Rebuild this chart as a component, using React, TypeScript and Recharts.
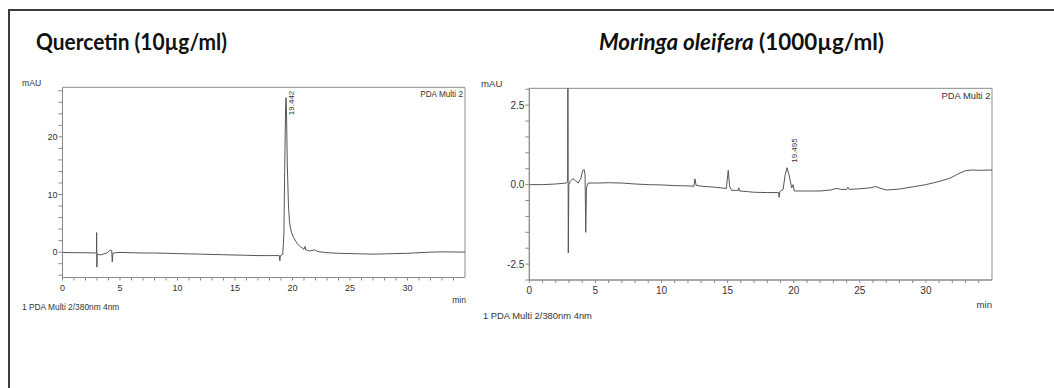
import React from "react";
import { LineChart, Line, XAxis, YAxis, ReferenceArea } from "recharts";

// retention time (min) / absorbance (mAU)
const quercetinTime = [
  0, 1, 2, 2.8, 2.95, 2.97, 2.99, 3.02, 3.3, 3.6, 3.9, 4.15, 4.28, 4.33, 4.38, 4.6, 5, 6, 7, 8, 9, 10, 11, 12, 13, 14,
  15, 16, 17, 18, 18.85, 18.9, 18.95, 19.15, 19.25, 19.32, 19.4, 19.44, 19.48, 19.55, 19.65, 19.75, 19.9, 20.1, 20.4,
  20.7, 21.0, 21.1, 21.15, 21.5, 21.9, 22.2, 23, 24, 25, 26, 27, 28, 29, 30, 31, 32, 33, 35,
];
const quercetinSignal = [
  -0.05, -0.1, -0.1, -0.15, -0.15, 3.4, -2.6, -0.3, -0.5, -0.3, -0.1, 0.35, 0.3, -1.7, -0.2, -0.1, -0.05, -0.1, -0.15,
  -0.15, -0.2, -0.25, -0.3, -0.35, -0.4, -0.45, -0.5, -0.55, -0.6, -0.6, -0.6, -1.5, -0.6, -0.4, 3, 14, 25, 26.8, 24,
  15, 8, 5, 3.5, 2.5, 1.5, 0.9, 0.5, 1.0, 0.4, 0.2, 0.4, 0.1, -0.1, -0.2, -0.25, -0.3, -0.35, -0.3, -0.25, -0.2, -0.1,
  0.0, 0.05, 0.0,
];

const moringaTime = [
  0, 1, 2, 2.8, 2.9, 2.92, 2.95, 2.99, 3.1, 3.3, 3.5, 3.7, 3.9, 4.05, 4.15, 4.22, 4.27, 4.32, 4.45, 5, 6, 7, 8, 9, 10,
  11, 12, 12.45, 12.53, 12.62, 13, 14, 14.9, 15.05, 15.15, 15.3, 15.8, 15.85, 15.9, 16.5, 17, 18, 18.85, 18.9, 18.95,
  19.2, 19.35, 19.5, 19.65, 19.85, 19.95, 20.05, 21, 22, 22.8, 23.2, 23.6, 24.0, 24.1, 24.2, 25, 25.8, 26.2, 26.6, 27,
  28, 29, 30, 31, 31.8, 32.5, 33, 33.5, 34, 35,
];
const moringaSignal = [
  0.0, 0.0, 0.02, 0.05, 0.1, 3.3, -2.15, 0.0, 0.1, 0.19, 0.12, 0.05, 0.2, 0.45, 0.47, 0.3, -1.5, -0.1, 0.05, 0.05, 0.06,
  0.05, 0.02, 0.0, -0.01, -0.03, -0.04, -0.05, 0.18, -0.02, -0.05, -0.08, -0.12, 0.45, -0.05, -0.18, -0.18, -0.1, -0.2,
  -0.22, -0.24, -0.25, -0.25, -0.4, -0.22, -0.15, 0.3, 0.53, 0.3, -0.1, 0.0, -0.2, -0.2, -0.2, -0.17, -0.12, -0.15,
  -0.15, -0.08, -0.15, -0.13, -0.1, -0.06, -0.12, -0.17, -0.14, -0.07, 0.0, 0.1, 0.2, 0.35, 0.44, 0.46, 0.45, 0.46,
];

const quercetinPeak = { t: 19.44, label: "19.442" };
const moringaPeak = { t: 19.5, label: "19.495" };

const xTicks = Array.from({ length: 35 }, (_, i) => i);
const quercetinYTicks = [-4, -2, 0, 2, 4, 6, 8, 10, 12, 14, 16, 18, 20, 22, 24, 26, 28];
const moringaYTicks = [-3, -2.5, -2, -1.5, -1, -0.5, 0, 0.5, 1, 1.5, 2, 2.5, 3];

const FONT = "'Liberation Sans', Arial, sans-serif";
const TRACE = "#555";
const FRAME = "#8a8a8a";

const build = (t: number[], v: number[], peak: { t: number; label: string }) =>
  t.map((time, i) => ({ t: time, v: v[i], tag: time === peak.t ? peak.label : null }));

const quercetinData = build(quercetinTime, quercetinSignal, quercetinPeak);
const moringaData = build(moringaTime, moringaSignal, moringaPeak);

const XTick = ({ x, y, payload, fs }: any) =>
  payload.value % 5 === 0 ? (
    <text x={x} y={y} dy="0.71em" textAnchor="middle" fontSize={fs} fontFamily={FONT} fill="#333">
      {payload.value}
    </text>
  ) : (
    <g />
  );

const YTick = ({ x, y, payload, fs, step, digits }: any) =>
  Math.abs(payload.value / step - Math.round(payload.value / step)) < 1e-6 ? (
    <text x={x} y={y} dy="0.355em" textAnchor="end" fontSize={fs} fontFamily={FONT} fill="#333">
      {payload.value.toFixed(digits)}
    </text>
  ) : (
    <g />
  );

const peakDot = (dx: number, dy: number, anchor: string) => (p: any) => {
  if (!p.payload || !p.payload.tag) return <g key={`d-${p.index}`} />;
  const x = p.cx + dx;
  const y = p.cy + dy;
  return (
    <text
      key={`d-${p.index}`}
      x={x}
      y={y}
      transform={`rotate(-90, ${x}, ${y})`}
      textAnchor={anchor}
      dominantBaseline="central"
      fontSize={8}
      fontFamily={FONT}
      fill="#333"
    >
      {p.payload.tag}
    </text>
  );
};

interface ChromProps {
  data: any[];
  left: number;
  width: number;
  margin: { top: number; right: number; bottom: number; left: number };
  yDomain: [number, number];
  yTicks: number[];
  yStep: number;
  yDigits: number;
  fs: number;
  dot: any;
}

const Chromatogram: React.FC<ChromProps> = ({ data, left, width, margin, yDomain, yTicks, yStep, yDigits, fs, dot }) => (
  <div style={{ position: "absolute", left, top: 0 }}>
    <LineChart width={width} height={388} data={data} margin={margin}>
      <XAxis
        dataKey="t"
        type="number"
        domain={[0, 35]}
        ticks={xTicks}
        interval={0}
        allowDataOverflow
        height={20}
        tickSize={3}
        tickMargin={4}
        stroke={FRAME}
        tick={<XTick fs={fs} />}
      />
      <YAxis
        type="number"
        domain={yDomain}
        ticks={yTicks}
        interval={0}
        allowDataOverflow
        width={40}
        tickSize={4}
        tickMargin={1}
        stroke={FRAME}
        tick={<YTick fs={fs} step={yStep} digits={yDigits} />}
      />
      <ReferenceArea x1={0} x2={35} y1={yDomain[0]} y2={yDomain[1]} fill="none" stroke={FRAME} ifOverflow="visible" />
      <Line type="linear" dataKey="v" stroke={TRACE} strokeWidth={1} dot={dot} activeDot={false} isAnimationActive={false} />
    </LineChart>
  </div>
);

const smallText = (x: number, y: number, s: string, fs: number, anchor = "start") => (
  <text x={x} y={y} fontSize={fs} fontFamily={FONT} fill="#333" textAnchor={anchor}>
    {s}
  </text>
);

export default function App() {
  return (
    <div style={{ position: "fixed", left: 0, top: 0, width: 1054, height: 388, overflow: "hidden", background: "#fff" }}>
      <div
        style={{
          position: "absolute",
          left: 8,
          top: 9,
          width: 1100,
          height: 420,
          border: "2px solid #3c3c3c",
        }}
      />
      <Chromatogram
        data={quercetinData}
        left={0}
        width={527}
        margin={{ top: 87.3, right: 62, bottom: 90.5, left: 22.5 }}
        yDomain={[-4.4, 28.6]}
        yTicks={quercetinYTicks}
        yStep={10}
        yDigits={0}
        fs={9}
        dot={peakDot(5.5, -7, "end")}
      />
      <Chromatogram
        data={moringaData}
        left={470}
        width={584}
        margin={{ top: 88.3, right: 62, bottom: 88, left: 19.3 }}
        yDomain={[-3, 3.03]}
        yTicks={moringaYTicks}
        yStep={2.5}
        yDigits={1}
        fs={10}
        dot={peakDot(7, -5, "start")}
      />
      <svg width={1054} height={388} style={{ position: "absolute", left: 0, top: 0, pointerEvents: "none" }}>
        <text x={36} y={50} fontSize={22} fontWeight="bold" fontFamily="Lato, 'Open Sans', sans-serif" fill="#111" textLength={191} lengthAdjust="spacingAndGlyphs">
          Quercetin (10µg/ml)
        </text>
        <text x={599} y={50} fontSize={22} fontWeight="bold" fontFamily="Lato, 'Open Sans', sans-serif" fill="#111" textLength={285} lengthAdjust="spacingAndGlyphs">
          <tspan fontStyle="italic">Moringa oleifera</tspan> (1000µg/ml)
        </text>
        {smallText(22, 86, "mAU", 8.6)}
        {smallText(463, 97, "PDA Multi 2", 8.2, "end")}
        {smallText(466, 303, "min", 8.6, "end")}
        {smallText(22, 310, "1  PDA Multi 2/380nm 4nm", 8.4)}
        {smallText(481, 87, "mAU", 9.6)}
        {smallText(990.5, 98.5, "PDA Multi 2", 9.4, "end")}
        {smallText(992, 308, "min", 9.6, "end")}
        {smallText(483, 319, "1  PDA Multi 2/380nm 4nm", 9.4)}
      </svg>
    </div>
  );
}
